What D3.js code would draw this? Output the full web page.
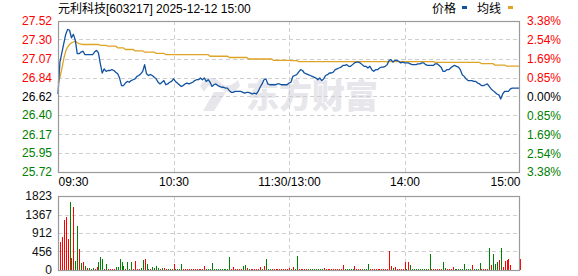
<!DOCTYPE html>
<html>
<head>
<meta charset="utf-8">
<script src="https://cdn.jsdelivr.net/npm/d3@7"></script>
<style>
  body { margin: 0; background: #fff; }
  svg { display: block; }
  text { font-family: "Liberation Sans", Arial, "Noto Sans CJK SC", sans-serif; }
</style>
</head>
<body>
<svg id="chart" width="578" height="276"></svg>
<script>
'use strict';

// chart values, one entry per trading minute (09:30 .. 11:30, 13:01 .. 15:00)
const stockTitle = "元利科技[603217] 2025-12-12 15:00";
const preClose = 26.62;
const priceTicks = [27.52, 27.30, 27.07, 26.84, 26.62, 26.40, 26.17, 25.95, 25.72];
const pctTicks = [3.38, 2.54, 1.69, 0.85, 0.00, -0.85, -1.69, -2.54, -3.38];
const volTicks = [0, 456, 912, 1367, 1823];
const timeTicks = [0, 60, 120, 180, 240];
const timeLabels = ["09:30", "10:30", "11:30/13:00", "14:00", "15:00"];

const price = [
  26.65, 27.03, 27.14, 27.25, 27.36, 27.42, 27.41, 27.32, 27.36, 27.29,
  27.13, 27.13, 27.15, 27.16, 27.12, 27.12, 27.12, 27.12, 27.12, 27.15,
  27.17, 27.14, 27.01, 26.90, 26.95, 26.92, 26.93, 26.93, 26.94, 26.93,
  26.91, 26.89, 26.84, 26.75, 26.75, 26.78, 26.80, 26.79, 26.81, 26.82,
  26.83, 26.86, 26.87, 26.89, 26.92, 27.00, 26.89, 26.87, 26.88, 26.87,
  26.85, 26.83, 26.79, 26.77, 26.79, 26.81, 26.76, 26.77, 26.79, 26.80,
  26.83, 26.80, 26.78, 26.76, 26.74, 26.75, 26.77, 26.78, 26.77, 26.78,
  26.79, 26.81, 26.82, 26.82, 26.84, 26.82, 26.84, 26.80, 26.82, 26.79,
  26.74, 26.76, 26.77, 26.75, 26.74, 26.73, 26.73, 26.72, 26.72, 26.69,
  26.67, 26.67, 26.68, 26.68, 26.68, 26.68, 26.67, 26.66, 26.67, 26.67,
  26.66, 26.65, 26.66, 26.65, 26.68, 26.73, 26.77, 26.82, 26.83, 26.77,
  26.76, 26.76, 26.76, 26.76, 26.77, 26.77, 26.76, 26.76, 26.76, 26.76,
  26.78, 26.79, 26.86, 26.87, 26.88, 26.91, 26.94, 26.93, 26.90, 26.89,
  26.88, 26.87, 26.86, 26.85, 26.84, 26.82, 26.84, 26.81, 26.83, 26.87,
  26.88, 26.90, 26.90, 26.91, 26.94, 26.95, 26.96, 26.97, 26.99, 26.99,
  27.00, 26.98, 26.98, 27.00, 27.02, 27.03, 27.03, 27.02, 27.00, 26.98,
  26.98, 26.96, 26.98, 26.94, 26.92, 26.94, 26.94, 26.96, 26.97, 26.97,
  26.98, 27.00, 27.05, 27.06, 27.03, 27.05, 27.05, 27.04, 27.02, 27.03,
  27.02, 27.02, 27.02, 27.01, 27.00, 27.00, 27.00, 27.01, 27.01, 27.02,
  27.02, 27.00, 26.99, 26.99, 26.99, 26.99, 27.01, 27.01, 26.99, 26.97,
  26.92, 26.92, 26.94, 26.94, 26.96, 26.98, 26.99, 26.98, 26.97, 26.94,
  26.88, 26.86, 26.83, 26.81, 26.81, 26.81, 26.80, 26.80, 26.78, 26.77,
  26.75, 26.75, 26.76, 26.77, 26.74, 26.71, 26.69, 26.67, 26.65, 26.64,
  26.59, 26.65, 26.68, 26.68, 26.68, 26.71, 26.72, 26.72, 26.72, 26.72,
  26.72
];

const avgPrice = [
  26.78, 26.85, 26.95, 27.07, 27.16, 27.21, 27.24, 27.26, 27.27, 27.28,
  27.26, 27.25, 27.245, 27.24, 27.24, 27.24, 27.24, 27.24, 27.24, 27.24,
  27.24, 27.24, 27.23, 27.23, 27.23, 27.23, 27.22, 27.22, 27.22, 27.22,
  27.22, 27.20, 27.20, 27.20, 27.20, 27.18, 27.18, 27.18, 27.18, 27.18,
  27.165, 27.165, 27.165, 27.165, 27.165, 27.15, 27.15, 27.15, 27.15, 27.15,
  27.15, 27.135, 27.135, 27.135, 27.135, 27.135, 27.12, 27.12, 27.12, 27.12,
  27.12, 27.12, 27.12, 27.12, 27.12, 27.12, 27.12, 27.12, 27.12, 27.12,
  27.12, 27.12, 27.12, 27.12, 27.12, 27.12, 27.12, 27.12, 27.12, 27.10,
  27.10, 27.10, 27.10, 27.10, 27.10, 27.10, 27.10, 27.10, 27.10, 27.085,
  27.085, 27.085, 27.085, 27.085, 27.085, 27.085, 27.085, 27.085, 27.085, 27.067,
  27.067, 27.067, 27.067, 27.067, 27.067, 27.067, 27.067, 27.067, 27.067, 27.067,
  27.067, 27.067, 27.05, 27.05, 27.05, 27.05, 27.05, 27.05, 27.05, 27.05,
  27.05, 27.047, 27.047, 27.047, 27.047, 27.035, 27.035, 27.035, 27.035, 27.035,
  27.035, 27.035, 27.035, 27.035, 27.035, 27.035, 27.035, 27.035, 27.035, 27.035,
  27.035, 27.035, 27.035, 27.035, 27.035, 27.035, 27.035, 27.035, 27.035, 27.035,
  27.035, 27.035, 27.035, 27.035, 27.035, 27.035, 27.035, 27.035, 27.035, 27.035,
  27.035, 27.035, 27.035, 27.035, 27.035, 27.035, 27.035, 27.035, 27.035, 27.035,
  27.035, 27.035, 27.035, 27.035, 27.035, 27.035, 27.035, 27.035, 27.035, 27.035,
  27.035, 27.035, 27.035, 27.035, 27.035, 27.035, 27.035, 27.035, 27.035, 27.035,
  27.035, 27.035, 27.035, 27.035, 27.035, 27.035, 27.027, 27.027, 27.027, 27.027,
  27.027, 27.027, 27.027, 27.027, 27.027, 27.027, 27.027, 27.027, 27.027, 27.027,
  27.027, 27.027, 27.027, 27.027, 27.027, 27.027, 27.027, 27.027, 27.027, 27.027,
  27.011, 27.011, 27.011, 27.011, 27.011, 27.011, 27.011, 26.995, 26.995, 26.995,
  26.995, 26.995, 26.995, 26.983, 26.983, 26.983, 26.983, 26.983, 26.983, 26.983,
  26.983
];

const volume = [
  0, 680, 820, 1240, 1300, 770, 1680, 300, 1550, 230,
  1090, 520, 180, 200, 110, 60, 55, 35, 55, 35,
  80, 200, 330, 280, 35, 160, 35, 30, 30, 35,
  80, 80, 280, 200, 110, 35, 200, 30, 200, 35,
  230, 35, 35, 55, 250, 280, 160, 30, 30, 80,
  55, 110, 55, 35, 55, 55, 30, 30, 30, 30,
  150, 30, 30, 30, 150, 30, 30, 30, 30, 30,
  30, 30, 30, 30, 30, 30, 110, 30, 30, 30,
  180, 30, 30, 30, 30, 30, 30, 30, 30, 330,
  30, 80, 30, 30, 30, 30, 110, 130, 55, 30,
  30, 30, 30, 30, 30, 80, 30, 110, 280, 30,
  30, 30, 30, 30, 30, 30, 30, 30, 30, 30,
  55, 30, 80, 30, 350, 30, 30, 30, 30, 30,
  30, 30, 30, 30, 30, 30, 30, 30, 40, 30,
  30, 30, 30, 30, 30, 30, 30, 30, 130, 30,
  30, 30, 30, 30, 110, 30, 30, 30, 30, 30,
  30, 160, 30, 30, 30, 30, 30, 30, 30, 30,
  30, 30, 470, 110, 55, 80, 30, 30, 30, 30,
  200, 30, 200, 130, 30, 30, 30, 30, 30, 30,
  30, 30, 30, 400, 30, 30, 30, 30, 30, 30,
  200, 55, 30, 30, 30, 80, 30, 30, 30, 30,
  30, 160, 30, 30, 30, 130, 30, 30, 30, 180,
  30, 30, 30, 30, 550, 130, 400, 160, 200, 250,
  550, 80, 230, 250, 280, 130, 0, 0, 0, 0,
  280
];

// r = trade at or above previous minute, g = below
const volSide =
  "rrrrrrgrrg" + "grgrgrgggr" + "rgggrgrrrr" + "gggggrgggr" + "rrrggrggrg" +
  "gggrgrrggr" + "rggggrrrrr" + "rrrrrrrggg" + "gggggggggg" + "rrrrrrggrg" +
  "rrrrrrgrgg" + "grrrrrrrrr" + "rgrggrrrrr" + "ggggggggrr" + "rrrrrrrrrg" +
  "ggggrrrrgg" + "ggrrrrrrrr" + "rrrrgrrrrr" + "rgrggggggg" + "ggggrrrrrr" +
  "ggrrrrgggg" + "gggggrgggg" + "rrrrgrgggr" + "grrrrrrrrr" + "r";

const COLORS = {
  up: "#ff0000", down: "#008000", flat: "#000000",
  price: "#1152a2", avg: "#dfa326",
  grid: "#cfcfcf", frame: "#9a9a9a", mark: "#e6e6eb"
};

const PRICE_BOX = { left: 58, right: 520, top: 21, bottom: 172 };
const VOL_BOX = { left: 58, right: 520, top: 196, bottom: 270 };

const svg = d3.select("#chart");

const x = d3.scaleLinear().domain([0, 240]).range([PRICE_BOX.left, PRICE_BOX.right]);
const y = d3.scaleLinear()
  .domain([priceTicks[priceTicks.length - 1], priceTicks[0]])
  .range([PRICE_BOX.bottom, PRICE_BOX.top]);
const yPct = d3.scaleLinear()
  .domain([pctTicks[pctTicks.length - 1], pctTicks[0]])
  .range([PRICE_BOX.bottom, PRICE_BOX.top]);
const yVol = d3.scaleLinear()
  .domain([0, volTicks[volTicks.length - 1]])
  .range([VOL_BOX.bottom, VOL_BOX.top]);

function tickColor(v, ref) {
  if (Math.abs(v - ref) < 1e-6) return COLORS.flat;
  return v > ref ? COLORS.up : COLORS.down;
}

// watermark behind the lines
const mark = svg.append("g").attr("fill", COLORS.mark);
mark.append("path")
  .attr("d", "M200,86 C206,76 214,76 220,82 C226,88 232,86 238,80 L240,86 " +
             "C234,94 226,94 220,88 C214,82 208,84 204,92 Z " +
             "M214,92 L226,92 L214,111 L203,111 Z");
mark.append("text")
  .attr("x", 246)
  .attr("y", 108)
  .attr("font-size", 33)
  .attr("font-weight", 900)
  .style("font-family", "'Noto Sans CJK SC', sans-serif")
  .attr("textLength", 132)
  .text("东方财富");

// grid lines
function drawGrid(box, yTicks, yScale) {
  const g = svg.append("g")
    .attr("stroke", COLORS.grid)
    .attr("stroke-dasharray", "4,3")
    .attr("shape-rendering", "crispEdges");
  g.selectAll("line.h")
    .data(yTicks.slice(1, -1))
    .join("line")
    .attr("x1", box.left).attr("x2", box.right)
    .attr("y1", d => Math.round(yScale(d)) + 0.5)
    .attr("y2", d => Math.round(yScale(d)) + 0.5);
  g.selectAll("line.v")
    .data(timeTicks.slice(1, -1))
    .join("line")
    .attr("y1", box.top).attr("y2", box.bottom)
    .attr("x1", d => Math.round(x(d)) + 0.5)
    .attr("x2", d => Math.round(x(d)) + 0.5);
}
drawGrid(PRICE_BOX, priceTicks, y);
drawGrid(VOL_BOX, volTicks, yVol);

// volume bars
svg.append("g")
  .attr("shape-rendering", "crispEdges")
  .selectAll("rect")
  .data(volume)
  .join("rect")
  .attr("x", (d, i) => Math.round(x(i)))
  .attr("width", 1)
  .attr("y", d => yVol(d))
  .attr("height", d => yVol(0) - yVol(d))
  .attr("fill", (d, i) => volSide[i] === "g" ? COLORS.down : COLORS.up);

// average line and price line
svg.append("path")
  .datum(avgPrice)
  .attr("fill", "none")
  .attr("stroke", COLORS.avg)
  .attr("stroke-width", 1.3)
  .attr("d", d3.line().x((d, i) => x(i)).y(d => y(d)));

svg.append("path")
  .datum(price)
  .attr("fill", "none")
  .attr("stroke", COLORS.price)
  .attr("stroke-width", 1.3)
  .attr("stroke-linejoin", "round")
  .attr("d", d3.line().x((d, i) => x(i)).y(d => y(d)));

// frames
[PRICE_BOX, VOL_BOX].forEach(box => {
  svg.append("rect")
    .attr("x", box.left + 0.5)
    .attr("y", box.top + 0.5)
    .attr("width", box.right - box.left - 1)
    .attr("height", box.bottom - box.top)
    .attr("fill", "none")
    .attr("stroke", COLORS.frame)
    .attr("stroke-width", 1.2);
});

// axes
const leftAxis = svg.append("g")
  .attr("transform", `translate(${PRICE_BOX.left - 3},0)`)
  .call(d3.axisLeft(y).tickValues(priceTicks).tickSize(0).tickFormat(d3.format(".2f")));
leftAxis.select(".domain").remove();
leftAxis.selectAll("text")
  .attr("font-size", 12)
  .style("font-family", "'Liberation Sans', Arial, sans-serif")
  .attr("fill", d => tickColor(d, preClose));

const rightAxis = svg.append("g")
  .attr("transform", `translate(${PRICE_BOX.right + 4},0)`)
  .call(d3.axisRight(yPct).tickValues(pctTicks).tickSize(0)
    .tickFormat(d => Math.abs(d).toFixed(2) + "%"));
rightAxis.select(".domain").remove();
rightAxis.selectAll("text")
  .attr("font-size", 12)
  .style("font-family", "'Liberation Sans', Arial, sans-serif")
  .attr("fill", d => tickColor(d, 0));

const volAxis = svg.append("g")
  .attr("transform", `translate(${VOL_BOX.left - 3},0)`)
  .call(d3.axisLeft(yVol).tickValues(volTicks).tickSize(0).tickFormat(d3.format("d")));
volAxis.select(".domain").remove();
volAxis.selectAll("text")
  .attr("font-size", 12)
  .style("font-family", "'Liberation Sans', Arial, sans-serif")
  .attr("fill", "#111");

const timeAxis = svg.append("g")
  .attr("transform", `translate(0,${PRICE_BOX.bottom + 2})`)
  .call(d3.axisBottom(x).tickValues(timeTicks).tickSize(0)
    .tickFormat((d, i) => timeLabels[i]));
timeAxis.select(".domain").remove();
timeAxis.selectAll("text")
  .attr("font-size", 12)
  .style("font-family", "'Liberation Sans', Arial, sans-serif")
  .attr("fill", "#000")
  .attr("text-anchor", (d, i) => i === 0 ? "start" : (i === timeTicks.length - 1 ? "end" : "middle"));

// title
svg.append("text")
  .attr("x", PRICE_BOX.left)
  .attr("y", 13)
  .attr("font-size", 12)
  .attr("fill", "#000")
  .text(stockTitle);

// legend
const legend = svg.append("g").attr("font-size", 12).attr("fill", "#000");
legend.append("text").attr("x", 432).attr("y", 13).text("价格");
legend.append("rect").attr("x", 462).attr("y", 6).attr("width", 5).attr("height", 3).attr("fill", COLORS.price);
legend.append("text").attr("x", 477).attr("y", 13).text("均线");
legend.append("rect").attr("x", 508).attr("y", 6).attr("width", 5).attr("height", 3).attr("fill", COLORS.avg);
</script>
</body>
</html>
